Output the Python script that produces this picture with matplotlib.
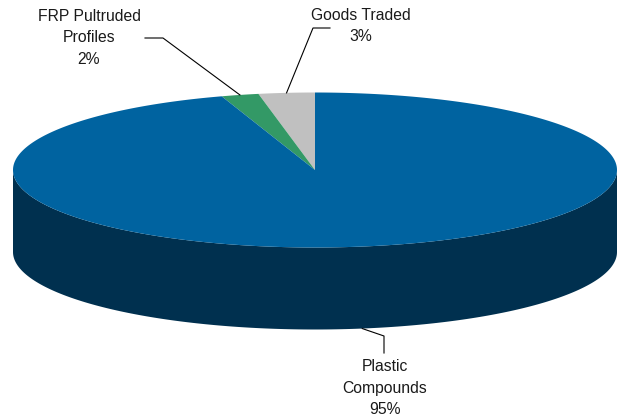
import numpy as np
import matplotlib.pyplot as plt
from matplotlib.patches import Polygon

plt.rcParams['font.family'] = ['Liberation Sans', 'DejaVu Sans']

# segment data, counter-clockwise from 12 o'clock
segments = ['Goods Traded', 'FRP Pultruded\nProfiles', 'Plastic\nCompounds']
shares = [3, 2, 95]
top_colors = ['#C0C0C0', '#339966', '#0063A0']
side_color = '#00304F'

# pie geometry (pixel space)
cx, cy = 315, 170
ra, rb = 302, 77.5
depth = 82

fig = plt.figure(figsize=(6.21, 4.19), dpi=100)
ax = fig.add_axes([0, 0, 1, 1])
ax.set_xlim(0, 621)
ax.set_ylim(419, 0)
ax.axis('off')


def rim(t, drop=0.0):
    t = np.radians(t)
    return cx + ra * np.cos(t), cy - rb * np.sin(t) + drop


# front wall of the cylinder
t = np.linspace(180, 360, 200)
x1, y1 = rim(t)
x2, y2 = rim(t[::-1], depth)
ax.add_patch(Polygon(np.column_stack([np.r_[x1, x2], np.r_[y1, y2]]),
                     closed=True, fc=side_color, ec='none'))

# top face wedges
start = 90.0
mids = []
for share, col in zip(shares, top_colors):
    sweep = share / 100 * 360
    tt = np.linspace(start, start + sweep, max(int(sweep * 2), 4))
    xs, ys = rim(tt)
    pts = np.column_stack([np.r_[cx, xs], np.r_[cy, ys]])
    ax.add_patch(Polygon(pts, closed=True, fc=col, ec='none'))
    mids.append(start + sweep / 2)
    start += sweep

# labels with elbow leader lines
label_pos = [(361, 26), (89, 38), (385, 388)]
elbows = [[(313, 28), (330, 28)], [(163, 38), (145, 38)], [(384, 336), (384, 353)]]
for i, (name, share) in enumerate(zip(segments, shares)):
    m = mids[i]
    drop = depth if np.sin(np.radians(m)) < 0 else 0
    ax_, ay_ = rim(m, drop)
    px = [ax_] + [p[0] for p in elbows[i]]
    py = [ay_] + [p[1] for p in elbows[i]]
    ax.plot(px, py, color='black', lw=0.8)
    ax.text(label_pos[i][0], label_pos[i][1], f'{name}\n{share}%',
            ha='center', va='center', fontsize=11.3, color='#1a1a1a',
            linespacing=1.55)

fig.savefig('out.png', dpi=100)
